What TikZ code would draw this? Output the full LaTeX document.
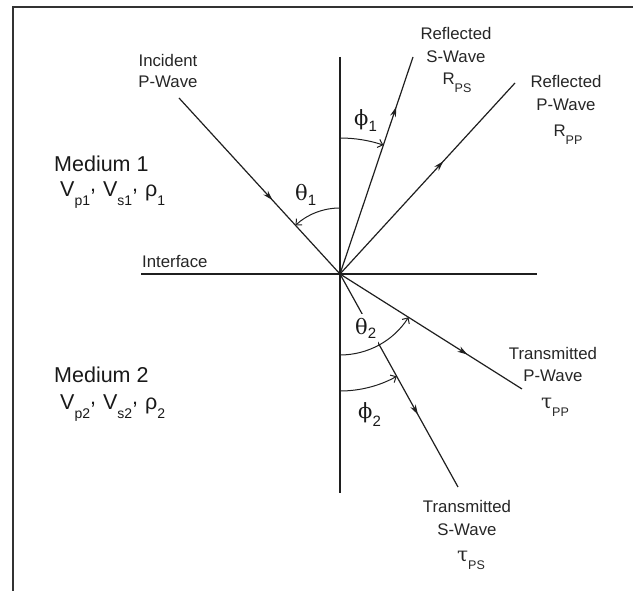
\documentclass[tikz,border=0pt]{standalone}
\usepackage{fontspec}
\setmainfont{Liberation Sans}
\newfontfamily\grkfont{DejaVu Serif}
\usetikzlibrary{arrows.meta,decorations.markings}
\newcommand{\lsub}[3]{\raisebox{-#2pt}{\normalfont\fontsize{#1}{#1}\selectfont #3}}
\newcommand{\rcomma}{\raisebox{5pt}{,}\hspace{7pt}}
\newcommand{\tauglyph}{{\grkfont\fontsize{20}{20}\selectfont τ}}
\tikzset{
 axisline/.style={line width=1.2pt, black!88},
 wave/.style={line width=1.2pt, black!88, postaction={decorate},
   decoration={markings, mark=at position #1 with {\arrow{Stealth[length=10pt,width=6pt]}}}},
 angarc/.style={line width=1pt, black!88, -{Straight Barb[length=4.5pt,width=8.5pt]}},
 lbl/.style={font=\fontsize{16.8}{20}\selectfont, text=black!85, inner sep=0pt, anchor=base},
 med/.style={font=\fontsize{21.5}{24}\selectfont, text=black!90, inner sep=0pt, anchor=base west},
 grk/.style={font=\fontsize{21}{22}\selectfont\grkfont, text=black!90, inner sep=0pt, anchor=base west},
 frameline/.style={line width=2pt, black!80},
}
\begin{document}
\begin{tikzpicture}[x=1pt,y=1pt]
\useasboundingbox (0,0) rectangle (633,591);
% frame
\coordinate (fb) at (12.5,0);
\coordinate (ftl) at (12.5,584);
\coordinate (ftr) at (633,584);
\draw[frameline] (fb) -- (ftl) -- (ftr);
% geometry
\coordinate (O) at (340,317);
\coordinate (vt) at (340,534);
\coordinate (vb) at (340,98);
\coordinate (hl) at (141,317);
\coordinate (hr) at (537,317);
\coordinate (inc) at (179,493);
\coordinate (rs) at (413,534);
\coordinate (rp) at (515,508);
\coordinate (tp) at (522,202);
\coordinate (ts) at (458,104);
\draw[axisline] (vt) -- (vb);
\draw[axisline] (hl) -- (hr);
\draw[wave=0.58] (inc) -- (O);
\draw[wave=0.77] (O) -- (rs);
\draw[wave=0.59] (O) -- (rp);
\draw[wave=0.70] (O) -- (tp);
\draw[wave=0.66] (O) -- (ts);
% theta2 label breaks the transmitted S ray
\node[grk, fill=white, inner xsep=2pt, inner ysep=5pt] (th2) at (353,256) {θ\lsub{15}{4}{2}};
% angle arcs
\draw[angarc] ([shift={(90:66)}]O) arc[start angle=90, end angle=132.4, radius=66];
\draw[angarc] ([shift={(90:136)}]O) arc[start angle=90, end angle=71.4, radius=136];
\draw[angarc] ([shift={(-90:81)}]O) arc[start angle=-90, end angle=-32.3, radius=81];
\draw[angarc] ([shift={(-90:117)}]O) arc[start angle=-90, end angle=-61, radius=117];
% greek labels
\node[grk] (th1) at (295,390) {θ\lsub{15}{5}{1}};
\node[grk] (ph1) at (354,465) {ϕ\lsub{15}{6}{1}};
\node[grk] (ph2) at (358,172) {ϕ\lsub{15}{8}{2}};
% wave labels
\node[lbl] (inc1) at (168,524) {Incident};
\node[lbl] (inc2) at (168,503) {P-Wave};
\node[lbl] (rs1) at (456,551) {Reflected};
\node[lbl] (rs2) at (456,528) {S-Wave};
\node[lbl] (rs3) at (457,506) {R\lsub{12.5}{8}{PS}};
\node[lbl] (rp1) at (566,503) {Reflected};
\node[lbl] (rp2) at (566,480) {P-Wave};
\node[lbl] (rp3) at (568,454) {R\lsub{12.5}{8}{PP}};
\node[lbl, anchor=base west] (intf) at (142,323) {Interface};
\node[lbl] (tp1) at (553,231) {Transmitted};
\node[lbl] (tp2) at (553,209) {P-Wave};
\node[lbl] (tp3) at (555,182) {\tauglyph\lsub{12.5}{8}{PP}};
\node[lbl] (ts1) at (467,78) {Transmitted};
\node[lbl] (ts2) at (467,55) {S-Wave};
\node[lbl] (ts3) at (471,29) {\tauglyph\lsub{12.5}{8}{PS}};
% media
\node[med] (m1) at (54,419) {Medium 1};
\node[med] (m1v) at (60,394) {V\lsub{14}{9}{p1}\rcomma V\lsub{14}{9}{s1}\rcomma ρ\lsub{14}{9}{1}};
\node[med] (m2) at (54,208) {Medium 2};
\node[med] (m2v) at (60,181) {V\lsub{14}{9}{p2}\rcomma V\lsub{14}{9}{s2}\rcomma ρ\lsub{14}{9}{2}};
\end{tikzpicture}
\end{document}
